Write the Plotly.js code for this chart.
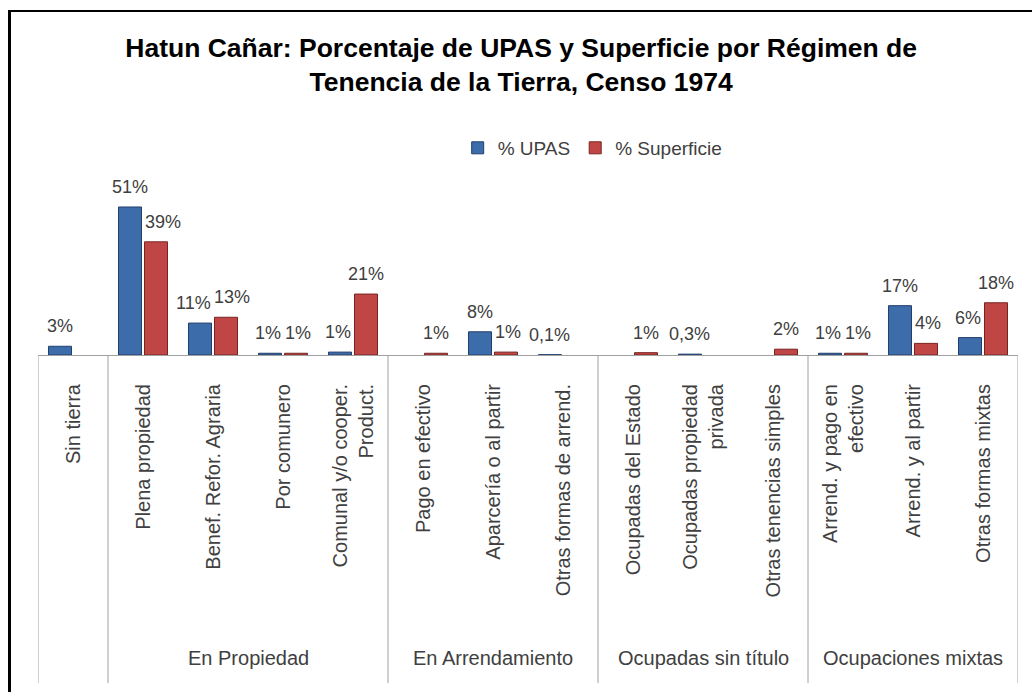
<!DOCTYPE html>
<html>
<head>
<meta charset="utf-8">
<script src="https://cdn.plot.ly/plotly-3.0.1.min.js"></script>
<style>
  html, body { margin: 0; padding: 0; background: #fff; }
  #chart { width: 1032px; height: 692px; }
  #frame { position: absolute; left: 8px; top: 10px; width: 1100px; height: 800px;
           border-left: 3px solid #000; border-top: 2px solid #000; pointer-events: none; z-index: 10; }
</style>
</head>
<body>
<div id="chart"></div>
<div id="frame"></div>
<script>
// ---- data ----
const categories = [
  "Sin tierra", "Plena propiedad", "Benef. Refor. Agraria", "Por comunero",
  "Comunal y/o cooper.<br>Product.",
  "Pago en efectivo", "Aparcería o al partir", "Otras formas de arrend.",
  "Ocupadas del Estado", "Ocupadas propiedad<br>privada", "Otras tenencias simples",
  "Arrend. y pago en<br>efectivo", "Arrend. y al partir", "Otras formas mixtas"
];
const upas       = [3, 51, 11, 0.6, 1,  null, 8, 0.1, null, 0.3, null, 0.6, 17, 6];
const superficie = [null, 39, 13, 0.6, 21, 0.6, 1, null, 0.8, null, 2, 0.6, 4, 18];
const groupNames = ["", "En Propiedad", "En Arrendamiento", "Ocupadas sin título", "Ocupaciones mixtas"];
const groupSizes = [1, 4, 3, 3, 3];
const seriesNames = ["% UPAS", "% Superficie"];

// ---- style / layout parameters ----
const FONT = "Liberation Sans, Arial, sans-serif";
const TXT = "#404040";
const W = 1032, H = 692;
const M = { l: 38, r: 14, t: 180, b: 337 };
const YMAX = 60.3;
const BARGAP = 0.257, GROUPGAP = 0.115;
const LABEL_SIZE = 18;
const LABEL_SHIFT = 8;

function fmt(v) {
  if (v === null || v === undefined) return "";
  if (v < 0.5) return v.toFixed(1).replace(".", ",") + "%";
  return Math.round(v) + "%";
}

const colors = [
  { fill: "#3d6cab", line: "#213f6b" },
  { fill: "#bf4644", line: "#7a2422" }
];
const seriesValues = [upas, superficie];

const traces = seriesValues.map((vals, s) => ({
  type: "bar",
  name: seriesNames[s],
  x: categories,
  y: vals,
  marker: { color: colors[s].fill, line: { color: colors[s].line, width: 1 } },
  hoverinfo: "x+y"
}));

// ---- data labels as annotations anchored to each bar (with overlap avoidance) ----
const ctx = document.createElement("canvas").getContext("2d");
ctx.font = LABEL_SIZE + "px " + FONT;
const plotW = W - M.l - M.r, plotH = H - M.t - M.b;
const catW = plotW / categories.length;
const slot = catW * (1 - BARGAP) / 2;         // distance between bar centres in a group
const barW = slot * (1 - GROUPGAP);
const pxPerUnit = plotH / YMAX;
const annotations = [];
categories.forEach((c, i) => {
  const labs = [];
  seriesValues.forEach((vals, s) => {
    const v = vals[i];
    if (v === null || v === undefined) return;
    const t = fmt(v);
    labs.push({ s, v, t, w: ctx.measureText(t).width, xs: (s === 0 ? -1 : 1) * slot / 2 });
  });
  if (labs.length === 2) {
    const [a, b] = labs;
    const need = (a.w + b.w) / 2 + 3;
    const vClose = Math.abs(a.v - b.v) * pxPerUnit < LABEL_SIZE * 1.1;
    if (vClose && need > slot) {
      const extra = (need - slot) / 2;
      a.xs -= extra; b.xs += extra;
    } else {
      // keep the shorter bar's label clear of the taller neighbouring bar
      const lo = a.v < b.v ? a : b, hi = lo === a ? b : a;
      const labelBottomPx = lo.v * pxPerUnit + LABEL_SHIFT;
      if (labelBottomPx < hi.v * pxPerUnit) {
        if (lo === b) {
          const barRight = a.xs + barW / 2;
          const left = b.xs - b.w / 2;
          if (left < barRight + 3) b.xs += barRight + 3 - left;
        } else {
          const barLeft = b.xs - barW / 2;
          const right = a.xs + a.w / 2;
          if (right > barLeft - 3) a.xs -= right - (barLeft - 3);
        }
      }
    }
  }
  labs.forEach(l => annotations.push({
    text: l.t, xref: "x", yref: "y", x: c, y: l.v,
    xanchor: "center", yanchor: "bottom", xshift: l.xs, yshift: LABEL_SHIFT,
    showarrow: false, font: { family: FONT, size: LABEL_SIZE, color: TXT }
  }));
});

// ---- group dividers and labels on the category axis ----
const boundaries = [-0.5];
groupSizes.forEach(n => boundaries.push(boundaries[boundaries.length - 1] + n));
const divBottom = -(683 - (H - M.b)) / plotH;
const groupLabelY = -(658 - (H - M.b)) / plotH;
const shapes = boundaries.map(b => ({
  type: "line", xref: "x", yref: "paper",
  x0: b, x1: b, y0: 0, y1: divBottom,
  line: { color: "#a0a0a0", width: 1 }
}));
groupNames.forEach((g, i) => {
  if (!g) return;
  annotations.push({
    text: g, xref: "x", yref: "paper",
    x: (boundaries[i] + boundaries[i + 1]) / 2, y: groupLabelY,
    showarrow: false, xanchor: "center", yanchor: "middle",
    font: { family: FONT, size: 20, color: TXT }
  });
});

const layout = {
  width: W, height: H,
  paper_bgcolor: "#fff", plot_bgcolor: "#fff",
  margin: M,
  font: { family: FONT, color: TXT },
  title: {
    text: "<b>Hatun Cañar: Porcentaje de UPAS y Superficie por Régimen de<br>Tenencia de la Tierra, Censo 1974</b>",
    font: { family: FONT, size: 26.5, color: "#000" },
    xref: "container", x: 0.505, xanchor: "center",
    yref: "container", y: 0.918, yanchor: "top"
  },
  barmode: "group",
  bargap: BARGAP,
  bargroupgap: GROUPGAP,
  showlegend: true,
  legend: {
    orientation: "h", x: 0.566, xanchor: "center", y: 1.183, yanchor: "middle",
    font: { family: FONT, size: 19, color: TXT },
    itemwidth: 30, bgcolor: "rgba(0,0,0,0)"
  },
  xaxis: {
    type: "category",
    range: [-0.5, categories.length - 0.5],
    showline: true, linecolor: "#a0a0a0", linewidth: 1,
    ticks: "", tickangle: -90,
    ticklabelstandoff: 20,
    tickfont: { family: FONT, size: 20, color: TXT },
    showgrid: false, zeroline: false, fixedrange: true
  },
  yaxis: {
    visible: false, range: [0, YMAX], showgrid: false, zeroline: false, fixedrange: true
  },
  shapes: shapes,
  annotations: annotations
};

Plotly.newPlot("chart", traces, layout, { displayModeBar: false, staticPlot: true });
</script>
</body>
</html>
